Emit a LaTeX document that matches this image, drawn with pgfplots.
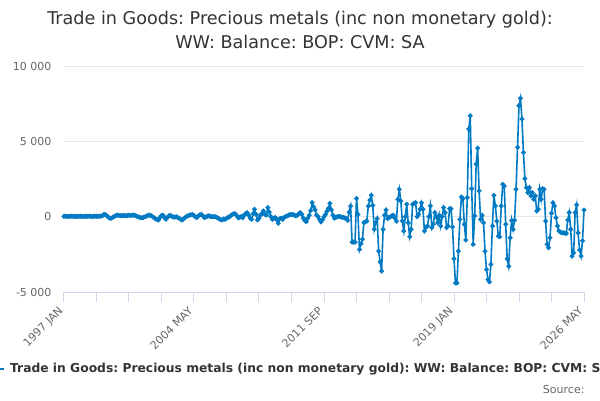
\documentclass[border=0pt]{standalone}
\usepackage{pgfplots}
\usepackage{pgfplotstable}
\pgfplotsset{compat=1.18}
\usetikzlibrary{calc}
\usepackage{fontspec}
\setmainfont{DejaVu Sans}
\frenchspacing
\definecolor{series}{RGB}{0,122,195}
\definecolor{titlec}{RGB}{51,51,51}
\definecolor{tickc}{RGB}{102,102,102}
\definecolor{gridc}{RGB}{230,230,230}
\definecolor{axisc}{RGB}{204,214,235}
\pgfplotstableread{
m v
0 20
1 30
2 20
3 10
4 20
5 30
6 20
7 20
8 10
9 20
10 30
11 20
12 20
13 10
14 30
15 20
16 20
17 30
18 20
19 10
20 20
21 30
22 20
23 20
24 30
25 40
26 60
27 150
28 130
29 50
30 -30
31 -100
32 -110
33 -50
34 20
35 60
36 100
37 90
38 70
39 60
40 80
41 70
42 60
43 80
44 90
45 70
46 90
47 100
48 80
49 40
50 0
51 -40
52 -60
53 -70
54 -40
55 0
56 50
57 90
58 100
59 60
60 0
61 -80
62 -150
63 -200
64 -220
65 -50
66 80
67 90
68 -50
69 -180
70 -50
71 60
72 90
73 20
74 -20
75 -30
76 0
77 -50
78 -100
79 -180
80 -220
81 -150
82 -60
83 20
84 60
85 100
86 130
87 150
88 80
89 -20
90 -50
91 50
92 120
93 150
94 50
95 -60
96 -20
97 30
98 60
99 20
100 0
101 0
102 10
103 -30
104 -80
105 -150
106 -200
107 -220
108 -150
109 -180
110 -100
111 -60
112 0
113 80
114 150
115 200
116 180
117 50
118 -80
119 -40
120 20
121 -70
122 100
123 200
124 270
125 100
126 -100
127 -180
128 200
129 490
130 150
131 -220
132 -100
133 100
134 200
135 380
136 150
137 100
138 600
139 300
140 0
141 -180
142 -100
143 -50
144 -200
145 -440
146 -150
147 -100
148 -180
149 -50
150 0
151 50
152 100
153 150
154 130
155 150
156 100
157 50
158 100
159 200
160 270
161 150
162 -100
163 -250
164 -330
165 -100
166 100
167 400
168 930
169 650
170 450
171 100
172 0
173 -200
174 -350
175 -200
176 0
177 150
178 350
179 550
180 880
181 450
182 100
183 -100
184 -50
185 0
186 20
187 0
188 -30
189 -50
190 -80
191 -100
192 -250
193 300
194 700
195 -1690
196 -1690
197 -1690
198 1200
199 150
200 -2180
201 -1800
202 -1500
203 -400
204 -350
205 -290
206 700
207 1100
208 1420
209 750
210 -840
211 -400
212 -130
213 -2290
214 -3000
215 -3620
216 -840
217 100
218 440
219 -130
220 -50
221 0
222 50
223 100
224 -100
225 -290
226 1150
227 1820
228 1040
229 -290
230 -950
231 0
232 820
233 -400
234 -1330
235 -840
236 820
237 900
238 930
239 0
240 150
241 500
242 930
243 490
244 -950
245 -700
246 -620
247 0
248 710
249 -730
250 -500
251 270
252 0
253 -400
254 100
255 -620
256 0
257 600
258 270
259 -730
260 -620
261 530
262 530
263 -690
264 -2800
265 -4400
266 -4400
267 -2290
268 -180
269 1310
270 1200
271 -510
272 -1550
273 1270
274 5820
275 6700
276 1860
277 -1840
278 50
279 3490
280 4550
281 1710
282 -180
283 90
284 -400
285 -2290
286 -3500
287 -4170
288 -4330
289 -3170
290 -620
291 1420
292 710
293 -290
294 -1290
295 -1330
296 710
297 2150
298 2040
299 -500
300 -2800
301 -3290
302 -1400
303 -240
304 -840
305 -240
306 1820
307 4600
308 7370
309 7860
310 6480
311 4260
312 2530
313 1930
314 1600
315 1930
316 1380
317 1600
318 1150
319 1380
320 380
321 490
322 1820
323 1150
324 1860
325 1820
326 -290
327 -1840
328 -2060
329 -1400
330 220
331 930
332 710
333 -70
334 -620
335 -950
336 -1020
337 -1070
338 -1070
339 -1090
340 -1110
341 -220
342 270
343 -840
344 -2620
345 -2400
346 270
347 780
348 -1070
349 -2200
350 -2620
351 -1600
352 440
}\series
\begin{document}
\begin{tikzpicture}
\begin{axis}[
  scale only axis, width=520pt, height=226pt,
  xmin=0, xmax=352, ymin=-5000, ymax=10000,
  scaled y ticks=false,
  axis x line*=bottom, axis y line*=left,
  x axis line style={draw=axisc, line width=1pt},
  y axis line style={draw=none},
  xtick={0,88,176,264,352},
  xticklabels={1997 JAN,2004 MAY,2011 SEP,2019 JAN,2026 MAY},
  minor xtick={22,44,66,110,132,154,198,220,242,286,308,330},
  x tick style={draw=axisc, line width=1pt},
  tick align=outside, major tick length=10pt, minor tick length=10pt,
  x tick label style={rotate=45, anchor=north east, font=\fontsize{11}{13}\selectfont, text=tickc, inner sep=1pt, xshift=-6pt, yshift=3pt},
  ytick={-5000,0,5000,10000},
  yticklabels={-5 000,0,5 000,10 000},
  y tick style={draw=none},
  y tick label style={font=\fontsize{11}{13}\selectfont, text=tickc, xshift=1pt},
  ymajorgrids, grid style={draw=gridc, line width=1pt},
  legend style={at={(axis description cs:-0.147,-0.341)}, anchor=west, draw=none, fill=none,
    inner sep=0pt, outer sep=0pt, nodes={inner sep=0pt}, column sep=5pt,
    font=\bfseries\fontsize{12.3}{15}\selectfont, text=titlec},
  legend image code/.code={\draw[#1, mark repeat=2, mark phase=2] plot coordinates {(0pt,0pt) (8pt,0pt) (16pt,0pt)};},
  clip=false,
]
\addplot[series, line width=1.6pt, mark=*, mark size=1.5pt, mark options={fill=series, draw=series}] table[x=m, y=v] {\series};
\addlegendentry{Trade in Goods: Precious metals (inc non monetary gold): WW: Balance: BOP: CVM: SA}
\coordinate (SW) at (rel axis cs:0,0);
\end{axis}
\pgfresetboundingbox
\path[use as bounding box] ($(SW)+(-64pt,-108pt)$) rectangle ($(SW)+(536pt,292pt)$);
\node[font=\fontsize{17.6}{24}\selectfont, text=titlec, align=center] at ($(SW)+(236pt,262pt)$) {Trade in Goods: Precious metals (inc non monetary gold):\\WW: Balance: BOP: CVM: SA};
\node[anchor=east, font=\fontsize{11}{13}\selectfont, text=tickc] at ($(SW)+(524pt,-97pt)$) {Source:};
\end{tikzpicture}
\end{document}
